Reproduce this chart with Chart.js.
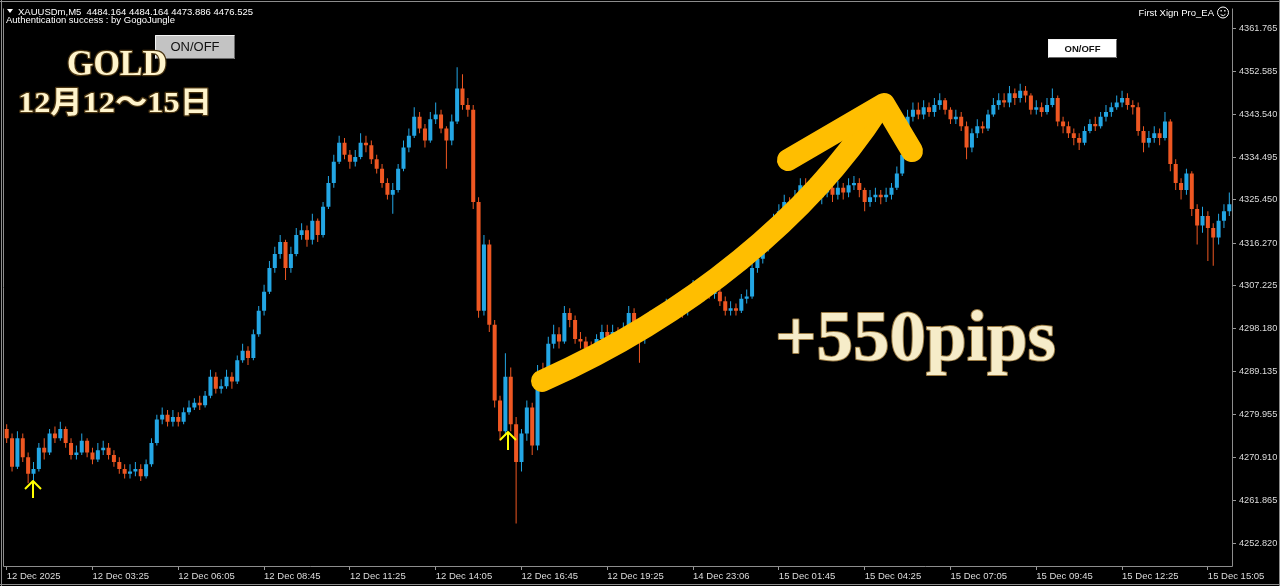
<!DOCTYPE html>
<html>
<head>
<meta charset="utf-8">
<script src="https://cdn.jsdelivr.net/npm/chart.js@4.4.1/dist/chart.umd.min.js"></script>
<style>
  html, body { margin: 0; padding: 0; background: #000; overflow: hidden; }
  canvas { display: block; }
</style>
</head>
<body>
<canvas id="chart" width="1280" height="586"></canvas>
<script>
// XAUUSDm M5, 12 Dec - 15 Dec (one candle here spans two M5 bars of the screenshot)
const opens = [
  4277, 4275, 4269, 4275, 4271, 4267.5, 4268.5, 4273, 4272, 4276,
  4275, 4277, 4274, 4271.5, 4272, 4274.5, 4272, 4270.5, 4272.5, 4273,
  4271.5, 4270, 4268.5, 4267.5, 4268, 4268.5, 4267, 4269.5, 4274, 4279,
  4280, 4278.5, 4279.5, 4278.5, 4280.5, 4281.5, 4282.5, 4282, 4284, 4288,
  4285.5, 4286, 4288, 4287, 4291.5, 4293.5, 4292, 4297, 4302, 4306,
  4311, 4314, 4316.5, 4311, 4314, 4318, 4319, 4317, 4321, 4318,
  4324, 4329, 4333.5, 4337.5, 4335, 4333.5, 4334.5, 4337.5, 4337, 4334,
  4332, 4329, 4326.5, 4327.5, 4332, 4336.5, 4339, 4343, 4340.5, 4338,
  4342.5, 4343.5, 4340.5, 4338, 4342, 4349, 4345.5, 4344.5, 4325, 4302,
  4316, 4299, 4283, 4276.5, 4288, 4278, 4270, 4276, 4281.5, 4273.5,
  4289, 4288, 4295, 4297, 4295.5, 4301.5, 4300, 4296, 4295.5, 4294,
  4293.5, 4296, 4297.5, 4296.5, 4297.5, 4297, 4298, 4301.5, 4298.5, 4296,
  4299.5, 4300.5, 4299.5, 4301, 4303, 4302.5, 4303.5, 4302, 4305, 4307,
  4305, 4306.5, 4305.5, 4306, 4304, 4302, 4302.5, 4302, 4304.5, 4305,
  4311, 4313, 4315.5, 4317, 4321, 4323, 4325, 4324, 4326, 4328.5,
  4327.5, 4328.5, 4326, 4327, 4328, 4326.5, 4328, 4327, 4328.5, 4329,
  4327.5, 4325, 4326, 4326.5, 4326, 4326.5, 4328, 4331, 4335, 4343,
  4344.5, 4343.5, 4345, 4344, 4345.5, 4346.5, 4344.5, 4342.5, 4343, 4341,
  4336.5, 4339.5, 4341, 4340.5, 4343.5, 4345.5, 4346.5, 4346, 4348, 4347,
  4348.5, 4347.5, 4344.5, 4345, 4344, 4345.5, 4347, 4342, 4341, 4339.5,
  4338.5, 4337.5, 4340, 4341.5, 4341, 4343, 4344, 4345, 4346, 4347,
  4345.5, 4345, 4340, 4337.5, 4338.5, 4339.5, 4338.5, 4342, 4333, 4329,
  4327.5, 4331, 4323.5, 4320, 4322, 4319.5, 4317.5, 4321, 4323
];
const highs = [
  4278, 4276, 4276.5, 4276, 4272, 4270, 4274, 4275, 4277, 4277.5,
  4278.5, 4277.5, 4275, 4273.5, 4276, 4275, 4273, 4274, 4274.5, 4274,
  4272.5, 4271, 4269.5, 4269.5, 4270, 4269.5, 4270.5, 4275, 4280, 4281.5,
  4281, 4281, 4280.5, 4281.5, 4283, 4283.5, 4284, 4285, 4289.5, 4289,
  4287.5, 4289.5, 4289, 4292.5, 4295, 4294.5, 4298, 4303, 4307.5, 4312.5,
  4315.5, 4318, 4317, 4315.5, 4319.5, 4320.5, 4320, 4322.5, 4321.5, 4325,
  4330.5, 4335, 4339, 4338.5, 4336, 4336, 4339.5, 4339, 4338, 4335,
  4333, 4330, 4329, 4333, 4338, 4340.5, 4345, 4344, 4341.5, 4344,
  4346, 4344.5, 4341, 4343.5, 4353.5, 4352, 4347, 4345.5, 4326, 4318,
  4317, 4300, 4284, 4293, 4290, 4279.5, 4277, 4283, 4282.5, 4290.5,
  4291, 4296.5, 4299, 4298.5, 4303, 4302.5, 4301, 4297.5, 4296.5, 4295.5,
  4297, 4299, 4299, 4299, 4298.5, 4299.5, 4303, 4302.5, 4299.5, 4300.5,
  4302, 4301.5, 4302.5, 4304.5, 4304, 4305, 4304.5, 4306.5, 4308.5, 4307.5,
  4308, 4307.5, 4307, 4307, 4305, 4304, 4303.5, 4305.5, 4306.5, 4312,
  4314.5, 4317, 4318.5, 4322.5, 4324.5, 4326.5, 4326, 4327.5, 4330, 4330,
  4330, 4329.5, 4328.5, 4329.5, 4329, 4329.5, 4329, 4330, 4330.5, 4330,
  4328, 4327.5, 4328, 4327.5, 4328, 4329, 4332.5, 4336, 4344.5, 4346,
  4346, 4346.5, 4346, 4347, 4348, 4347, 4345, 4344.5, 4344, 4342,
  4340.5, 4342.5, 4342, 4344.5, 4347, 4348, 4348, 4349.5, 4349, 4350,
  4349.5, 4348, 4346.5, 4346, 4347, 4349, 4347.5, 4343, 4342, 4340.5,
  4339.5, 4341, 4342.5, 4343, 4344, 4345.5, 4346, 4347.5, 4348.5, 4348,
  4346.5, 4346, 4341, 4340, 4341, 4340.5, 4344, 4342.5, 4334, 4330,
  4332, 4331.5, 4324.5, 4324, 4323, 4320.5, 4322.5, 4324.5, 4327
];
const lows = [
  4274, 4268, 4268.5, 4270, 4265.5, 4266, 4268, 4270.5, 4271.5, 4274,
  4274.5, 4273, 4270.5, 4270.5, 4271.5, 4271, 4269.5, 4270, 4271.5, 4270.5,
  4269, 4267.5, 4266.5, 4266.5, 4267, 4266, 4266.5, 4269, 4273.5, 4278,
  4277.5, 4277.5, 4277.5, 4278, 4280, 4281, 4281, 4281.5, 4283.5, 4284.5,
  4284.5, 4285.5, 4285.5, 4286.5, 4291, 4290.5, 4291.5, 4296.5, 4301, 4305.5,
  4310, 4313, 4308.5, 4310, 4313.5, 4317, 4315.5, 4316, 4316.5, 4317.5,
  4323.5, 4328, 4333, 4334, 4332, 4332.5, 4334, 4335.5, 4333, 4331,
  4328, 4325.5, 4322.5, 4327, 4331.5, 4335.5, 4338.5, 4339.5, 4336.5, 4337.5,
  4341.5, 4339.5, 4332, 4337, 4341.5, 4344.5, 4343, 4323.5, 4300.5, 4301,
  4297.5, 4281.5, 4274.5, 4275.5, 4276.5, 4257, 4268, 4274.5, 4271.5, 4272.5,
  4286.5, 4287, 4294, 4294, 4295, 4298.5, 4295, 4294, 4293, 4292,
  4292.5, 4295, 4295, 4295.5, 4295.5, 4296, 4297.5, 4297.5, 4291, 4295,
  4298.5, 4298.5, 4298.5, 4300, 4301, 4301.5, 4300.5, 4301, 4304, 4304,
  4304, 4304.5, 4304.5, 4303, 4301, 4301, 4301, 4301.5, 4303.5, 4304.5,
  4310, 4312, 4314.5, 4316, 4320, 4322, 4322.5, 4323, 4325, 4326,
  4326.5, 4325, 4324.5, 4326, 4325, 4325.5, 4325.5, 4326, 4327.5, 4326,
  4323, 4324, 4325, 4324.5, 4325, 4325.5, 4327.5, 4330.5, 4334.5, 4342,
  4342.5, 4342.5, 4343, 4343, 4344.5, 4343.5, 4341.5, 4341.5, 4340, 4334,
  4335.5, 4338.5, 4339.5, 4340, 4343, 4344.5, 4345, 4345, 4345.5, 4346,
  4346, 4343.5, 4343.5, 4343, 4343.5, 4345, 4341, 4339.5, 4338.5, 4337,
  4336, 4337, 4339.5, 4340, 4340.5, 4342, 4343, 4344.5, 4345, 4344.5,
  4343.5, 4339, 4335.5, 4336.5, 4337.5, 4337, 4338, 4331.5, 4327.5, 4325.5,
  4326.5, 4322, 4316, 4318.5, 4312.5, 4311.5, 4316, 4319.5, 4322
];
const closes = [
  4275, 4269, 4275, 4271, 4267.5, 4268.5, 4273, 4272, 4276, 4275,
  4277, 4274, 4271.5, 4272, 4274.5, 4272, 4270.5, 4272.5, 4273, 4271.5,
  4270, 4268.5, 4267.5, 4268, 4268.5, 4267, 4269.5, 4274, 4279, 4280,
  4278.5, 4279.5, 4278.5, 4280.5, 4281.5, 4282.5, 4282, 4284, 4288, 4285.5,
  4286, 4288, 4287, 4291.5, 4293.5, 4292, 4297, 4302, 4306, 4311,
  4314, 4316.5, 4311, 4314, 4318, 4319, 4317, 4321, 4318, 4324,
  4329, 4333.5, 4337.5, 4335, 4333.5, 4334.5, 4337.5, 4337, 4334, 4332,
  4329, 4326.5, 4327.5, 4332, 4336.5, 4339, 4343, 4340.5, 4338, 4342.5,
  4343.5, 4340.5, 4338, 4342, 4349, 4345.5, 4344.5, 4325, 4302, 4316,
  4299, 4283, 4276.5, 4288, 4278, 4270, 4276, 4281.5, 4273.5, 4289,
  4288, 4295, 4297, 4295.5, 4301.5, 4300, 4296, 4295.5, 4294, 4293.5,
  4296, 4297.5, 4296.5, 4297.5, 4297, 4298, 4301.5, 4298.5, 4296, 4299.5,
  4300.5, 4299.5, 4301, 4303, 4302.5, 4303.5, 4302, 4305, 4307, 4305,
  4306.5, 4305.5, 4306, 4304, 4302, 4302.5, 4302, 4304.5, 4305, 4311,
  4313, 4315.5, 4317, 4321, 4323, 4325, 4324, 4326, 4328.5, 4327.5,
  4328.5, 4326, 4327, 4328, 4326.5, 4328, 4327, 4328.5, 4329, 4327.5,
  4325, 4326, 4326.5, 4326, 4326.5, 4328, 4331, 4335, 4343, 4344.5,
  4343.5, 4345, 4344, 4345.5, 4346.5, 4344.5, 4342.5, 4343, 4341, 4336.5,
  4339.5, 4341, 4340.5, 4343.5, 4345.5, 4346.5, 4346, 4348, 4347, 4348.5,
  4347.5, 4344.5, 4345, 4344, 4345.5, 4347, 4342, 4341, 4339.5, 4338.5,
  4337.5, 4340, 4341.5, 4341, 4343, 4344, 4345, 4346, 4347, 4345.5,
  4345, 4340, 4337.5, 4338.5, 4339.5, 4338.5, 4342, 4333, 4329, 4327.5,
  4331, 4323.5, 4320, 4322, 4319.5, 4317.5, 4321, 4323, 4324.5
];

// time axis: a label every 16 candles
const tickBars = [0, 16, 32, 48, 64, 80, 96, 112, 128, 144, 160, 176, 192, 208, 224];
const tickLabels = [
  '12 Dec 2025', '12 Dec 03:25', '12 Dec 06:05', '12 Dec 08:45', '12 Dec 11:25',
  '12 Dec 14:05', '12 Dec 16:45', '12 Dec 19:25', '14 Dec 23:06', '15 Dec 01:45',
  '15 Dec 04:25', '15 Dec 07:05', '15 Dec 09:45', '15 Dec 12:25', '15 Dec 15:05'
];
const priceTicks = [
  4361.765, 4352.585, 4343.540, 4334.495, 4325.450, 4316.270, 4307.225,
  4298.180, 4289.135, 4279.955, 4270.910, 4261.865, 4252.820
];

const UP = '#23a6e4';
const DOWN = '#ee5722';
const candleColors = closes.map((c, i) => c >= opens[i] ? UP : DOWN);

function fitText(ctx, text, x, baseline, width) {
    const w = ctx.measureText(text).width;
    ctx.save();
    ctx.translate(x, baseline);
    ctx.scale(width / w, 1);
    ctx.lineJoin = 'round';
    ctx.strokeText(text, 0, 0);
    ctx.fillText(text, 0, 0);
    ctx.restore();
}

function button(ctx, x, y, w, h, fill, font, label) {
    ctx.fillStyle = fill;
    ctx.fillRect(x, y, w, h);
    ctx.strokeStyle = '#f4f4f4';
    ctx.lineWidth = 1;
    ctx.beginPath();
    ctx.moveTo(x + 0.5, y + h - 0.5); ctx.lineTo(x + 0.5, y + 0.5); ctx.lineTo(x + w - 0.5, y + 0.5);
    ctx.stroke();
    ctx.strokeStyle = '#6a6a6a';
    ctx.beginPath();
    ctx.moveTo(x + w - 0.5, y + 0.5); ctx.lineTo(x + w - 0.5, y + h - 0.5); ctx.lineTo(x + 0.5, y + h - 0.5);
    ctx.stroke();
    ctx.fillStyle = '#111';
    ctx.font = font;
    ctx.textAlign = 'center';
    ctx.textBaseline = 'middle';
    ctx.fillText(label, x + w / 2, y + h / 2 + 0.5);
    ctx.textAlign = 'left';
    ctx.textBaseline = 'alphabetic';
}

function upArrow(ctx, x, top, bottom) {
    ctx.strokeStyle = '#ffff00';
    ctx.lineWidth = 2;
    ctx.lineCap = 'butt';
    ctx.beginPath();
    ctx.moveTo(x, bottom); ctx.lineTo(x, top + 1);
    ctx.moveTo(x - 8, top + 9); ctx.lineTo(x, top + 1); ctx.lineTo(x + 8, top + 9);
    ctx.stroke();
}

const decor = {
    id: 'decor',
    beforeDraw(chart) {
        const ctx = chart.ctx;
        ctx.save();
        ctx.fillStyle = '#000';
        ctx.fillRect(0, 0, chart.width, chart.height);
        ctx.restore();
    },
    afterDraw(chart) {
        const ctx = chart.ctx;
        const a = chart.chartArea;
        ctx.save();

        // window frame and axis lines
        ctx.strokeStyle = '#8c8c8c';
        ctx.lineWidth = 1;
        ctx.beginPath();
        ctx.moveTo(0, 1.5); ctx.lineTo(1280, 1.5);
        ctx.moveTo(1.5, 0); ctx.lineTo(1.5, 586);
        ctx.moveTo(1279.5, 0); ctx.lineTo(1279.5, 586);
        ctx.moveTo(0, 584.5); ctx.lineTo(1280, 584.5);
        ctx.moveTo(a.left - 0.5, a.top); ctx.lineTo(a.left - 0.5, a.bottom + 0.5);
        ctx.moveTo(a.right + 0.5, a.top); ctx.lineTo(a.right + 0.5, a.bottom + 0.5);
        ctx.moveTo(a.left - 0.5, a.bottom + 0.5); ctx.lineTo(a.right + 0.5, a.bottom + 0.5);
        ctx.stroke();

        // big hand-drawn arrow
        ctx.strokeStyle = '#ffbe00';
        ctx.lineWidth = 22;
        ctx.lineCap = 'round';
        ctx.lineJoin = 'round';
        ctx.beginPath();
        ctx.moveTo(542, 381);
        ctx.bezierCurveTo(690, 315, 810, 215, 879, 108);
        ctx.stroke();
        ctx.beginPath();
        ctx.moveTo(788, 160); ctx.lineTo(884, 104); ctx.lineTo(912, 151);
        ctx.stroke();

        // entry arrows
        upArrow(ctx, 33, 480, 498);
        upArrow(ctx, 508, 431, 450);

        // header text
        ctx.fillStyle = '#ffffff';
        ctx.font = '9.5px "Liberation Sans"';
        ctx.beginPath();
        ctx.moveTo(7, 9); ctx.lineTo(13, 9); ctx.lineTo(10, 13); ctx.closePath();
        ctx.fill();
        ctx.fillText('XAUUSDm,M5  4484.164 4484.164 4473.886 4476.525', 18, 15);
        ctx.fillText('Authentication success : by GogoJungle', 6, 23);
        ctx.textAlign = 'right';
        ctx.fillText('First Xign Pro_EA', 1214, 16);
        ctx.textAlign = 'left';
        ctx.strokeStyle = '#ffffff';
        ctx.lineWidth = 1;
        ctx.beginPath(); ctx.arc(1223, 12.5, 5.5, 0, Math.PI * 2); ctx.stroke();
        ctx.beginPath(); ctx.arc(1223, 12.5, 3, 0.2 * Math.PI, 0.8 * Math.PI); ctx.stroke();
        ctx.fillRect(1220.5, 10, 1.3, 1.5);
        ctx.fillRect(1224.2, 10, 1.3, 1.5);

        // buttons
        button(ctx, 155, 35, 80, 24, '#c3c3c3', '13px "Liberation Sans"', 'ON/OFF');
        button(ctx, 1048, 39, 69, 19, '#ffffff', 'bold 9.5px "Liberation Sans"', 'ON/OFF');

        // title
        let g = ctx.createLinearGradient(0, 50, 0, 76);
        g.addColorStop(0, '#fff4cc');
        g.addColorStop(1, '#c9a45c');
        ctx.fillStyle = g;
        ctx.strokeStyle = '#4a3512';
        ctx.lineWidth = 2.5;
        ctx.font = 'bold 35px "Liberation Serif"';
        fitText(ctx, 'GOLD', 67, 75, 100);

        g = ctx.createLinearGradient(0, 88, 0, 113);
        g.addColorStop(0, '#fff4cc');
        g.addColorStop(1, '#c9a45c');
        ctx.fillStyle = g;
        ctx.font = 'bold 30px "Liberation Serif", "Noto Sans CJK JP"';
        fitText(ctx, '12月12～15日', 18, 112, 194);

        // result
        g = ctx.createLinearGradient(0, 305, 0, 372);
        g.addColorStop(0, '#f6ecc9');
        g.addColorStop(1, '#e8d9ac');
        ctx.fillStyle = g;
        ctx.strokeStyle = '#9a7b44';
        ctx.lineWidth = 2;
        ctx.font = 'bold 71px "Liberation Serif"';
        fitText(ctx, '+550pips', 775, 360, 281);

        ctx.restore();
    }
};

new Chart(document.getElementById('chart'), {
    type: 'bar',
    data: {
        labels: closes.map((_, i) => i),
        datasets: [
            {
                label: 'wick',
                data: lows.map((l, i) => [l, highs[i]]),
                backgroundColor: candleColors,
                barThickness: 1,
                inflateAmount: 0,
                grouped: false,
                order: 2,
            },
            {
                label: 'body',
                data: opens.map((o, i) => [o, closes[i]]),
                backgroundColor: candleColors,
                categoryPercentage: 1,
                barPercentage: 0.75,
                minBarLength: 1,
                grouped: false,
                order: 1,
            },
        ],
    },
    options: {
        responsive: false,
        animation: false,
        devicePixelRatio: 1,
        layout: { padding: { left: 4, top: 3, right: 0, bottom: 0 } },
        plugins: {
            legend: { display: false },
            tooltip: { enabled: false },
        },
        scales: {
            x: {
                offset: true,
                border: { display: false },
                grid: { drawOnChartArea: false, drawTicks: true, tickLength: 4, offset: false, color: '#9a9a9a' },
                ticks: {
                    autoSkip: false,
                    maxRotation: 0,
                    align: 'start',
                    padding: 1,
                    color: '#dcdcdc',
                    font: { family: 'Liberation Sans', size: 9.5 },
                    callback: (value, index) => tickLabels[index],
                },
                afterBuildTicks: (scale) => { scale.ticks = tickBars.map(v => ({ value: v })); },
                afterFit: (scale) => { scale.height = 20; },
            },
            y: {
                position: 'right',
                min: 4248.0,
                max: 4365.9,
                border: { display: false },
                grid: { drawOnChartArea: false, drawTicks: true, tickLength: 4, color: '#9a9a9a' },
                ticks: {
                    padding: 3,
                    color: '#dcdcdc',
                    font: { family: 'Liberation Sans', size: 9.2 },
                    callback: (value) => Number(value).toFixed(3),
                },
                afterBuildTicks: (scale) => { scale.ticks = priceTicks.map(v => ({ value: v })); },
                afterFit: (scale) => { scale.width = 48; },
            },
        },
    },
    plugins: [decor],
});
</script>
</body>
</html>
